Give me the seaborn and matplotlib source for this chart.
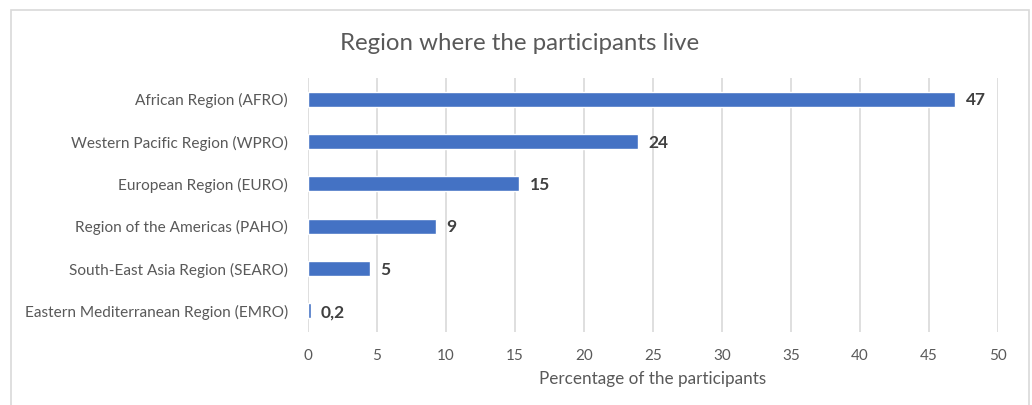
import matplotlib
matplotlib.use("Agg")
import matplotlib.pyplot as plt
import seaborn as sns
import pandas as pd
from matplotlib.patches import Rectangle

regions = [
    "African Region (AFRO)",
    "Western Pacific Region (WPRO)",
    "European Region (EURO)",
    "Region of the Americas (PAHO)",
    "South-East Asia Region (SEARO)",
    "Eastern Mediterranean Region (EMRO)",
]
values = [46.9, 23.9, 15.3, 9.3, 4.5, 0.2]
labels = ["47", "24", "15", "9", "5", "0,2"]
xticks = [0, 5, 10, 15, 20, 25, 30, 35, 40, 45, 50]

df = pd.DataFrame({"region": regions, "value": values})

sns.set_theme(style="white")
plt.rcParams["font.family"] = ["Lato", "DejaVu Sans"]

W, H = 1032, 405
fig = plt.figure(figsize=(W / 100, H / 100), dpi=100)
ax = fig.add_axes([308 / W, 1 - 332 / H, (998 - 308) / W, (332 - 78) / H])

sns.barplot(data=df, x="value", y="region", color="#4472C4", width=0.36,
            saturation=1, ax=ax, zorder=3)

ax.set_xlim(0, 50)
ax.set_xticks(xticks)
ax.set_xticklabels([str(t) for t in xticks], color="#595959", fontsize=11)
ax.tick_params(axis="x", length=0, pad=12)
ax.tick_params(axis="y", length=0, pad=14.5)
for t in ax.get_yticklabels():
    t.set_color("#595959")
    t.set_fontsize(11.1)
ax.grid(axis="x", color="#D9D9D9", linewidth=1.2, zorder=0)
ax.set_axisbelow(True)
for s in ax.spines.values():
    s.set_visible(False)

ax.set_ylabel("")
ax.set_xlabel("Percentage of the participants", color="#595959", fontsize=12.3, labelpad=6)

for i, (v, lab) in enumerate(zip(values, labels)):
    ax.text(v + 0.75, i + 0.03, lab, va="center", ha="left", fontsize=12.5,
            fontweight="bold", color="#404040")

fig.text(520 / W, 1 - 44 / H, "Region where the participants live",
         ha="center", va="center", fontsize=17.3, color="#595959")

fig.patches.append(Rectangle((11 / W, -0.05), (1029 - 11) / W, 1 - 10 / H + 0.05,
                             transform=fig.transFigure, fill=False,
                             edgecolor="#D9D9D9", linewidth=1.2))

fig.savefig("out.png", dpi=100, facecolor="white")
